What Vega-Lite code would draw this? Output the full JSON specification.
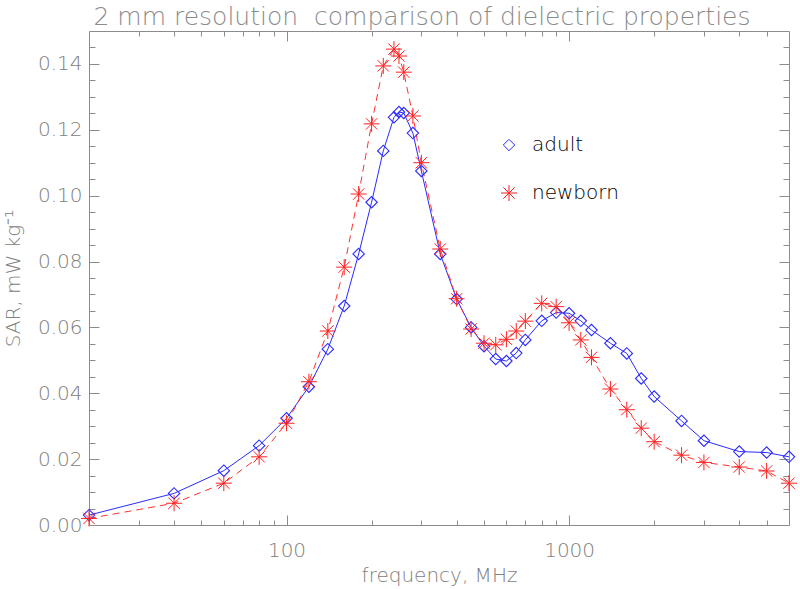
{
  "$schema": "https://vega.github.io/schema/vega-lite/v6.json",
  "width": 700,
  "height": 494,
  "autosize": {"type": "none"},
  "padding": {"left": 89, "top": 31, "right": 11, "bottom": 64},
  "background": "white",
  "title": {"text": "2 mm resolution\u00a0 comparison of dielectric properties", "font": "DejaVu Sans", "fontSize": 25, "fontWeight": 200, "color": "#8a8a8a", "anchor": "middle", "dx": -17, "offset": -19, "baseline": "alphabetic"},
  "config": {
    "view": {"stroke": null},
    "axis": {"grid": false, "domainColor": "#8c8c8c", "tickColor": "#8c8c8c", "labelColor": "#808080", "titleColor": "#808080", "labelFont": "DejaVu Sans", "titleFont": "DejaVu Sans", "labelFontSize": 20, "titleFontSize": 20, "labelFontWeight": 200, "titleFontWeight": 200, "tickWidth": 1, "domainWidth": 1},
    "legend": {"title": null, "orient": "none", "legendX": 410, "legendY": 104, "labelFont": "DejaVu Sans", "labelFontSize": 20, "labelFontWeight": 200, "labelOffset": 13, "rowPadding": 28, "padding": 0, "symbolStrokeWidth": 1}
  },
  "data": {"values": [
    {"freq": 20, "sar": 0.003, "series": "adult"},
    {"freq": 40, "sar": 0.0096, "series": "adult"},
    {"freq": 60, "sar": 0.0165, "series": "adult"},
    {"freq": 80, "sar": 0.0241, "series": "adult"},
    {"freq": 100, "sar": 0.0324, "series": "adult"},
    {"freq": 120, "sar": 0.042, "series": "adult"},
    {"freq": 140, "sar": 0.0534, "series": "adult"},
    {"freq": 160, "sar": 0.0665, "series": "adult"},
    {"freq": 180, "sar": 0.0823, "series": "adult"},
    {"freq": 200, "sar": 0.098, "series": "adult"},
    {"freq": 220, "sar": 0.1136, "series": "adult"},
    {"freq": 240, "sar": 0.1238, "series": "adult"},
    {"freq": 250, "sar": 0.1254, "series": "adult"},
    {"freq": 260, "sar": 0.1251, "series": "adult"},
    {"freq": 280, "sar": 0.119, "series": "adult"},
    {"freq": 300, "sar": 0.1075, "series": "adult"},
    {"freq": 350, "sar": 0.0823, "series": "adult"},
    {"freq": 400, "sar": 0.0686, "series": "adult"},
    {"freq": 450, "sar": 0.060, "series": "adult"},
    {"freq": 500, "sar": 0.0543, "series": "adult"},
    {"freq": 550, "sar": 0.0504, "series": "adult"},
    {"freq": 600, "sar": 0.0498, "series": "adult"},
    {"freq": 650, "sar": 0.0522, "series": "adult"},
    {"freq": 700, "sar": 0.0562, "series": "adult"},
    {"freq": 800, "sar": 0.062, "series": "adult"},
    {"freq": 900, "sar": 0.0645, "series": "adult"},
    {"freq": 1000, "sar": 0.0643, "series": "adult"},
    {"freq": 1100, "sar": 0.062, "series": "adult"},
    {"freq": 1200, "sar": 0.0592, "series": "adult"},
    {"freq": 1400, "sar": 0.0552, "series": "adult"},
    {"freq": 1600, "sar": 0.0521, "series": "adult"},
    {"freq": 1800, "sar": 0.0445, "series": "adult"},
    {"freq": 2000, "sar": 0.039, "series": "adult"},
    {"freq": 2500, "sar": 0.0316, "series": "adult"},
    {"freq": 3000, "sar": 0.0256, "series": "adult"},
    {"freq": 4000, "sar": 0.0223, "series": "adult"},
    {"freq": 5000, "sar": 0.022, "series": "adult"},
    {"freq": 6000, "sar": 0.0207, "series": "adult"},
    {"freq": 20, "sar": 0.002, "series": "newborn"},
    {"freq": 40, "sar": 0.0066, "series": "newborn"},
    {"freq": 60, "sar": 0.0127, "series": "newborn"},
    {"freq": 80, "sar": 0.0207, "series": "newborn"},
    {"freq": 100, "sar": 0.0309, "series": "newborn"},
    {"freq": 120, "sar": 0.0435, "series": "newborn"},
    {"freq": 140, "sar": 0.0589, "series": "newborn"},
    {"freq": 160, "sar": 0.0783, "series": "newborn"},
    {"freq": 180, "sar": 0.1005, "series": "newborn"},
    {"freq": 200, "sar": 0.1218, "series": "newborn"},
    {"freq": 220, "sar": 0.1394, "series": "newborn"},
    {"freq": 240, "sar": 0.1445, "series": "newborn"},
    {"freq": 250, "sar": 0.1424, "series": "newborn"},
    {"freq": 260, "sar": 0.1375, "series": "newborn"},
    {"freq": 280, "sar": 0.1242, "series": "newborn"},
    {"freq": 300, "sar": 0.110, "series": "newborn"},
    {"freq": 350, "sar": 0.0838, "series": "newborn"},
    {"freq": 400, "sar": 0.0687, "series": "newborn"},
    {"freq": 450, "sar": 0.0595, "series": "newborn"},
    {"freq": 500, "sar": 0.0552, "series": "newborn"},
    {"freq": 550, "sar": 0.0547, "series": "newborn"},
    {"freq": 600, "sar": 0.0564, "series": "newborn"},
    {"freq": 650, "sar": 0.0589, "series": "newborn"},
    {"freq": 700, "sar": 0.0619, "series": "newborn"},
    {"freq": 800, "sar": 0.0673, "series": "newborn"},
    {"freq": 900, "sar": 0.0663, "series": "newborn"},
    {"freq": 1000, "sar": 0.0614, "series": "newborn"},
    {"freq": 1100, "sar": 0.0562, "series": "newborn"},
    {"freq": 1200, "sar": 0.0509, "series": "newborn"},
    {"freq": 1400, "sar": 0.0413, "series": "newborn"},
    {"freq": 1600, "sar": 0.035, "series": "newborn"},
    {"freq": 1800, "sar": 0.0294, "series": "newborn"},
    {"freq": 2000, "sar": 0.0253, "series": "newborn"},
    {"freq": 2500, "sar": 0.0212, "series": "newborn"},
    {"freq": 3000, "sar": 0.019, "series": "newborn"},
    {"freq": 4000, "sar": 0.0176, "series": "newborn"},
    {"freq": 5000, "sar": 0.0164, "series": "newborn"},
    {"freq": 6000, "sar": 0.0127, "series": "newborn"}
  ]},
  "layer": [
    {
      "transform": [{"filter": "datum.series === 'adult'"}],
      "mark": {"type": "line", "color": "#2b2bff", "strokeWidth": 1},
      "encoding": {
        "x": {"field": "freq", "type": "quantitative", "scale": {"type": "log", "domain": [20, 6000], "nice": false},
              "axis": {"orient": "bottom", "values": [100, 1000], "format": "d", "tickSize": -10, "labelPadding": 25, "title": "frequency, MHz", "titlePadding": 5}},
        "y": {"field": "sar", "type": "quantitative", "scale": {"domain": [0, 0.15], "nice": false, "zero": false},
              "axis": {"orient": "left", "values": [0, 0.02, 0.04, 0.06, 0.08, 0.1, 0.12, 0.14], "format": ".2f", "tickSize": -10, "labelPadding": 17, "title": "SAR, mW kg⁻¹", "titlePadding": 14}}
      }
    },
    {
      "transform": [{"filter": "datum.series === 'newborn'"}],
      "mark": {"type": "line", "color": "#ff3030", "strokeWidth": 1, "strokeDash": [7, 5]},
      "encoding": {
        "x": {"field": "freq", "type": "quantitative",
              "axis": {"orient": "top", "values": [100, 1000], "tickSize": -10, "labels": false, "title": null}},
        "y": {"field": "sar", "type": "quantitative",
              "axis": {"orient": "right", "values": [0, 0.02, 0.04, 0.06, 0.08, 0.1, 0.12, 0.14], "tickSize": -10, "labels": false, "title": null}}
      }
    },
    {
      "transform": [{"filter": "datum.series === 'adult'"}],
      "mark": {"type": "point", "filled": false, "strokeWidth": 1.1, "opacity": 1},
      "encoding": {
        "x": {"field": "freq", "type": "quantitative",
              "axis": {"orient": "bottom", "values": [30, 40, 50, 60, 70, 80, 90, 200, 300, 400, 500, 600, 700, 800, 900, 2000, 3000, 4000, 5000], "tickSize": -5, "labels": false, "domain": false, "title": null}},
        "y": {"field": "sar", "type": "quantitative",
              "axis": {"orient": "left", "values": [0.005, 0.01, 0.015, 0.025, 0.03, 0.035, 0.045, 0.05, 0.055, 0.065, 0.07, 0.075, 0.085, 0.09, 0.095, 0.105, 0.11, 0.115, 0.125, 0.13, 0.135, 0.145], "tickSize": -6, "labels": false, "domain": false, "title": null}},
        "color": {"field": "series", "type": "nominal", "scale": {"domain": ["adult", "newborn"], "range": ["#2b2bff", "#ff2020"]},
                  "legend": {"encode": {"labels": {"update": {"fill": {"signal": "datum.label === 'adult' ? '#3a3aff' : '#e86868'"}}}}}},
        "shape": {"field": "series", "type": "nominal", "scale": {"domain": ["adult", "newborn"], "range": ["diamond", "M-1,0L1,0M0,-1L0,1M-0.707,-0.707L0.707,0.707M-0.707,0.707L0.707,-0.707"]}},
        "size": {"field": "series", "type": "ordinal", "scale": {"domain": ["adult", "newborn"], "range": [130, 256]}}
      }
    },
    {
      "transform": [{"filter": "datum.series === 'newborn'"}],
      "mark": {"type": "point", "filled": false, "strokeWidth": 1, "opacity": 1},
      "encoding": {
        "x": {"field": "freq", "type": "quantitative",
              "axis": {"orient": "top", "values": [30, 40, 50, 60, 70, 80, 90, 200, 300, 400, 500, 600, 700, 800, 900, 2000, 3000, 4000, 5000], "tickSize": -5, "labels": false, "domain": false, "title": null}},
        "y": {"field": "sar", "type": "quantitative",
              "axis": {"orient": "right", "values": [0.005, 0.01, 0.015, 0.025, 0.03, 0.035, 0.045, 0.05, 0.055, 0.065, 0.07, 0.075, 0.085, 0.09, 0.095, 0.105, 0.11, 0.115, 0.125, 0.13, 0.135, 0.145], "tickSize": -6, "labels": false, "domain": false, "title": null}},
        "color": {"field": "series", "type": "nominal"},
        "shape": {"field": "series", "type": "nominal"},
        "size": {"field": "series", "type": "ordinal"}
      }
    }
  ],
  "resolve": {"axis": {"x": "independent", "y": "independent"}}
}
